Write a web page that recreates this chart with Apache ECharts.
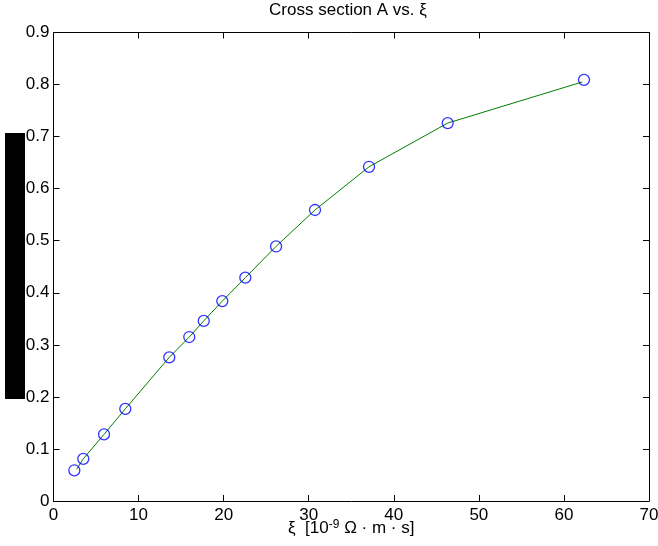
<!DOCTYPE html>
<html>
<head>
<meta charset="utf-8">
<script src="https://cdn.jsdelivr.net/npm/echarts@6/dist/echarts.min.js"></script>
<style>
html,body{margin:0;padding:0;background:#fff;}
#c{width:658px;height:546px;}
</style>
</head>
<body>
<div id="c"></div>
<script>
// Data
var xiMarkers = [2.45, 3.50, 5.94, 8.44, 13.61, 15.96, 17.66, 19.84, 22.55, 26.16, 30.74, 37.09, 46.34, 62.36];
var aMarkers  = [0.059, 0.081, 0.128, 0.177, 0.276, 0.315, 0.346, 0.384, 0.429, 0.489, 0.559, 0.642, 0.726, 0.809];
var xiLine = [2.73, 3.50, 5.94, 8.44, 13.61, 15.96, 17.66, 19.84, 22.55, 26.16, 30.74, 37.09, 46.34, 62.16];
var aLine  = [0.061, 0.081, 0.128, 0.177, 0.276, 0.315, 0.346, 0.384, 0.429, 0.489, 0.559, 0.642, 0.726, 0.805];
var xTicks = [0, 10, 20, 30, 40, 50, 60, 70];
var yTicks = [0, 0.1, 0.2, 0.3, 0.4, 0.5, 0.6, 0.7, 0.8, 0.9];
var titleText = 'Cross section A vs. ξ';

var FONT = 'Liberation Sans, Arial, Helvetica, sans-serif';
var markerData = xiMarkers.map(function(x, i){ return [x, aMarkers[i]]; });
var lineData = xiLine.map(function(x, i){ return [x, aLine[i]]; });

var chart = echarts.init(document.getElementById('c'), null, {renderer: 'canvas'});
var baseAxis = {
  axisLine: {show: true, onZero: false, lineStyle: {color: '#000', width: 1}},
  axisTick: {show: true, inside: true, length: 6, lineStyle: {color: '#000', width: 1}},
  splitLine: {show: false}
};
chart.setOption({
  backgroundColor: '#fff',
  animation: false,
  title: {
    text: titleText, left: 348, top: 2, textAlign: 'center', padding: 0,
    textStyle: {fontFamily: FONT, fontSize: 17, fontWeight: 'normal', color: '#000'}
  },
  grid: {left: 53.5, right: 9, top: 32.5, bottom: 45, containLabel: false, outerBoundsMode: 'none'},
  xAxis: [
    Object.assign({}, baseAxis, {
      type: 'value', min: xTicks[0], max: xTicks[xTicks.length-1], interval: 10,
      position: 'bottom',
      axisLabel: {fontFamily: FONT, fontSize: 17, color: '#000', margin: 6},
      name: '{a|ξ  [10}{s|-9}{a| Ω · m · s]}',
      nameLocation: 'middle', nameGap: 18, nameMoveOverlap: false,
      nameTextStyle: {
        rich: {
          a: {fontFamily: FONT, fontSize: 17, color: '#000', verticalAlign: 'bottom', lineHeight: 18},
          s: {fontFamily: FONT, fontSize: 12, color: '#000', verticalAlign: 'top', lineHeight: 18, padding: [0,0,6,0]}
        }
      }
    }),
    Object.assign({}, baseAxis, {
      type: 'value', min: xTicks[0], max: xTicks[xTicks.length-1], interval: 10,
      position: 'top', axisLabel: {show: false}
    })
  ],
  yAxis: [
    Object.assign({}, baseAxis, {
      type: 'value', min: yTicks[0], max: yTicks[yTicks.length-1], interval: 0.1,
      position: 'left',
      axisLabel: {fontFamily: FONT, fontSize: 17, color: '#000', margin: 4,
        formatter: function(v){ return String(Math.round(v*10)/10); }}
    }),
    Object.assign({}, baseAxis, {
      type: 'value', min: yTicks[0], max: yTicks[yTicks.length-1], interval: 0.1,
      position: 'right', axisLabel: {show: false}
    })
  ],
  graphic: [{
    type: 'rect', shape: {x: 5, y: 133, width: 20, height: 266},
    style: {fill: '#000'}, z: 100
  }],
  series: [
    {
      type: 'line', data: lineData, xAxisIndex: 0, yAxisIndex: 0,
      showSymbol: false, symbol: 'none',
      lineStyle: {color: '#008000', width: 1}, z: 2
    },
    {
      type: 'scatter', data: markerData, xAxisIndex: 0, yAxisIndex: 0,
      symbol: 'circle', symbolSize: 11,
      itemStyle: {color: 'rgba(0,0,0,0)', borderColor: '#0000ff', borderWidth: 1.3}, z: 3
    }
  ]
});
</script>
</body>
</html>
